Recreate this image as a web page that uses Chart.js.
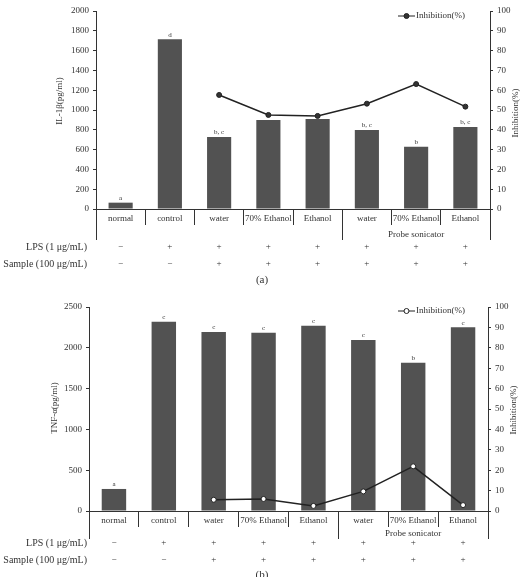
<!DOCTYPE html>
<html>
<head>
<meta charset="utf-8">
<script src="https://cdn.jsdelivr.net/npm/chart.js@4"></script>
<style>
  body { margin: 0; background: #fff; }
  canvas { display: block; }
</style>
</head>
<body>
<canvas id="chartA" width="523" height="290"></canvas>
<canvas id="chartB" width="523" height="287"></canvas>
<script>
var categories = ["normal", "control", "water", "70% Ethanol", "Ethanol", "water", "70% Ethanol", "Ethanol"];
var lpsRow = ["\u2212", "+", "+", "+", "+", "+", "+", "+"];
var sampleRow = ["\u2212", "\u2212", "+", "+", "+", "+", "+", "+"];

var il1bValues = [64, 1714, 727, 899, 909, 798, 629, 828];
var il1bInhibition = [null, null, 57.6, 47.5, 47, 53.2, 63.1, 51.7];
var il1bLetters = ["a", "d", "b, c", "c", "c", "b, c", "b", "b, c"];
var il1bTicks = [0, 2000, 200];

var tnfValues = [270, 2320, 2194, 2185, 2271, 2096, 1818, 2251];
var tnfInhibition = [null, null, 5.5, 5.9, 2.5, 9.6, 21.9, 2.9];
var tnfLetters = ["a", "c", "c", "c", "c", "c", "b", "c"];
var tnfTicks = [0, 2500, 500];

var serif = "'Liberation Serif', 'DejaVu Serif', serif";
var ink = "#333";
var barColor = "#525252";

var extras = {
  id: "extras",
  afterDraw: function (chart) {
    var o = chart.options.plugins.extras;
    var ctx = chart.ctx;
    var xs = chart.scales.x;
    var area = chart.chartArea;
    var half = (xs.getPixelForValue(1) - xs.getPixelForValue(0)) / 2;
    ctx.save();
    ctx.strokeStyle = ink;
    ctx.fillStyle = ink;
    ctx.lineWidth = 1;

    // long separators and group label
    [xs.left, xs.getPixelForValue(5) - half, xs.right].forEach(function (x) {
      x = Math.round(x) + 0.5;
      ctx.beginPath();
      ctx.moveTo(x, area.bottom);
      ctx.lineTo(x, area.bottom + o.longSep);
      ctx.stroke();
    });
    ctx.font = "9px " + serif;
    ctx.textAlign = "center";
    ctx.textBaseline = "middle";
    ctx.fillText("Probe sonicator", (xs.getPixelForValue(5) - half + xs.right) / 2, area.bottom + o.groupY);

    // letters over bars
    ctx.font = "7px " + serif;
    ctx.textBaseline = "bottom";
    var bars = chart.getDatasetMeta(1).data;
    o.letters.forEach(function (t, i) {
      ctx.fillText(t, bars[i].x, bars[i].y - 1);
    });

    // treatment rows
    ctx.font = "10px " + serif;
    ctx.textBaseline = "middle";
    ctx.textAlign = "right";
    ctx.fillText("LPS (1 \u03bcg/mL)", 87, area.bottom + o.rowY[0]);
    ctx.fillText("Sample (100 \u03bcg/mL)", 87, area.bottom + o.rowY[1]);
    ctx.textAlign = "center";
    ctx.font = "9px " + serif;
    categories.forEach(function (c, i) {
      var x = xs.getPixelForValue(i);
      ctx.fillText(lpsRow[i], x, area.bottom + o.rowY[0]);
      ctx.fillText(sampleRow[i], x, area.bottom + o.rowY[1]);
    });

    // panel label
    ctx.font = "11px " + serif;
    ctx.fillText(o.panel, 262, area.bottom + o.rowY[2]);

    // legend
    var ly = o.legendY;
    ctx.strokeStyle = "#222";
    ctx.beginPath();
    ctx.moveTo(398, ly);
    ctx.lineTo(415, ly);
    ctx.stroke();
    ctx.beginPath();
    ctx.arc(406.5, ly, 2.5, 0, Math.PI * 2);
    ctx.fillStyle = o.markerFill;
    ctx.fill();
    ctx.stroke();
    ctx.fillStyle = ink;
    ctx.font = "9px " + serif;
    ctx.textAlign = "left";
    ctx.fillText("Inhibition(%)", 416, ly);

    // axis titles
    ctx.textAlign = "center";
    ctx.save();
    ctx.translate(o.leftTitleX, o.leftTitleY);
    ctx.rotate(-Math.PI / 2);
    ctx.fillText(o.leftTitle, 0, 0);
    ctx.restore();
    ctx.save();
    ctx.translate(o.rightTitleX, o.rightTitleY);
    ctx.rotate(-Math.PI / 2);
    ctx.fillText("Inhibition(%)", 0, 0);
    ctx.restore();

    ctx.restore();
  }
};

function plain(v) { return String(v); }

function makeChart(id, values, inhibition, ticks, opts) {
  return new Chart(id, {
    type: "bar",
    data: {
      labels: categories,
      datasets: [{
        type: "line",
        data: inhibition,
        yAxisID: "y2",
        borderColor: "#222",
        borderWidth: 1.5,
        pointRadius: 2.5,
        pointBackgroundColor: opts.markerFill,
        pointBorderColor: "#222",
        pointBorderWidth: 1,
        tension: 0,
        order: 0
      }, {
        data: values,
        backgroundColor: barColor,
        barPercentage: 0.49,
        categoryPercentage: 1,
        order: 1
      }]
    },
    options: {
      responsive: false,
      animation: false,
      layout: { padding: { top: opts.top, left: 0, right: 0, bottom: 0 } },
      plugins: {
        legend: { display: false },
        tooltip: { enabled: false },
        extras: opts
      },
      scales: {
        x: {
          offset: true,
          border: { display: true, color: ink },
          grid: { offset: true, drawOnChartArea: false, drawTicks: true, tickLength: 16, color: ink },
          ticks: { padding: -12, color: ink, font: { family: serif, size: 9 }, maxRotation: 0, autoSkip: false },
          afterFit: function (s) { s.height = opts.xHeight; }
        },
        y: {
          position: "left",
          min: ticks[0],
          max: ticks[1],
          border: { display: true, color: ink },
          grid: { drawOnChartArea: false, tickLength: 3, color: ink },
          ticks: { stepSize: ticks[2], padding: 4, color: ink, font: { family: serif, size: 9 }, callback: plain },
          afterFit: function (s) { s.width = opts.leftW; }
        },
        y2: {
          position: "right",
          min: 0,
          max: 100,
          border: { display: true, color: ink },
          grid: { drawOnChartArea: false, tickLength: 3, color: ink },
          ticks: { stepSize: 10, padding: 4, color: ink, font: { family: serif, size: 9 }, callback: plain },
          afterFit: function (s) { s.width = opts.rightW; }
        }
      }
    },
    plugins: [extras]
  });
}

makeChart("chartA", il1bValues, il1bInhibition, il1bTicks, {
  top: 11, xHeight: 81, leftW: 96, rightW: 33,
  longSep: 31, groupY: 26, rowY: [38, 55, 71],
  letters: il1bLetters, panel: "(a)", legendY: 16, markerFill: "#333",
  leftTitle: "IL-1\u03b2(pg/ml)", leftTitleX: 60, leftTitleY: 101,
  rightTitleX: 516, rightTitleY: 113
});

makeChart("chartB", tnfValues, tnfInhibition, tnfTicks, {
  top: 17, xHeight: 66, leftW: 89, rightW: 35,
  longSep: 28, groupY: 23, rowY: [32, 49, 64],
  letters: tnfLetters, panel: "(b)", legendY: 21, markerFill: "#fff",
  leftTitle: "TNF-\u03b1(pg/ml)", leftTitleX: 55, leftTitleY: 118,
  rightTitleX: 514, rightTitleY: 120
});
</script>
</body>
</html>
